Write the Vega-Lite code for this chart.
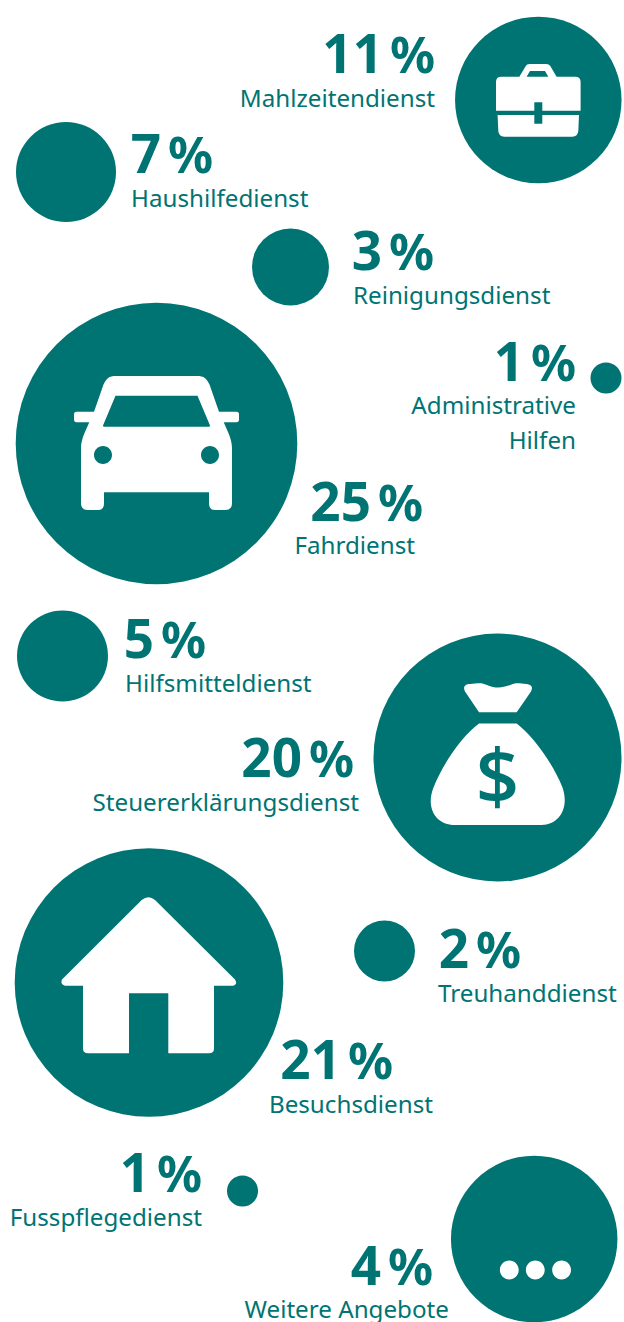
{
"$schema":"https://vega.github.io/schema/vega-lite/v6.json",
"width":624,"height":1322,"padding":0,"autosize":{"type":"none"},"background":"white",
"config":{"view":{"stroke":null}},
"data":{"values":[
{"label":"Mahlzeitendienst","share":"11","cx":538.3,"cy":100,"diameter":166.5,"icon":"briefcase","side":"right","pctX":435,"pctY":72.7,"labelX":435,"labelY":106.7},
{"label":"Haushilfedienst","share":"7","cx":66,"cy":172,"diameter":100,"side":"left","pctX":213,"pctY":173,"labelX":131,"labelY":207},
{"label":"Reinigungsdienst","share":"3","cx":290.5,"cy":267,"diameter":77,"side":"left","pctX":434,"pctY":270,"labelX":353,"labelY":304},
{"label":"Fahrdienst","share":"25","cx":156.5,"cy":443.5,"diameter":281.6,"icon":"car","side":"right","pctX":423,"pctY":521,"labelX":415,"labelY":554},
{"label":"Administrative\nHilfen","share":"1","cx":606,"cy":378,"diameter":31,"side":"right","pctX":576,"pctY":381,"labelX":576,"labelY":414},
{"label":"Hilfsmitteldienst","share":"5","cx":62.5,"cy":656,"diameter":91,"side":"left","pctX":206,"pctY":658,"labelX":125,"labelY":692},
{"label":"Steuererklärungsdienst","share":"20","cx":497.5,"cy":757.5,"diameter":248,"icon":"bag","side":"right","pctX":354,"pctY":777,"labelX":359,"labelY":811},
{"label":"Treuhanddienst","share":"2","cx":384.5,"cy":951,"diameter":61,"side":"left","pctX":521,"pctY":968,"labelX":438,"labelY":1002},
{"label":"Besuchsdienst","share":"21","cx":149,"cy":982.5,"diameter":268.6,"icon":"house","side":"right","pctX":393,"pctY":1079,"labelX":433,"labelY":1113},
{"label":"Fusspflegedienst","share":"1","cx":242.5,"cy":1191,"diameter":31,"side":"right","pctX":202,"pctY":1192,"labelX":202,"labelY":1226},
{"label":"Weitere Angebote","share":"4","cx":534.2,"cy":1239,"diameter":166.5,"icon":"dots","side":"right","pctX":433,"pctY":1285,"labelX":449,"labelY":1318}
]},
"layer":[
{"mark":{"type":"circle","color":"#007473","opacity":1,"strokeWidth":0},
 "encoding":{
  "x":{"field":"cx","type":"quantitative","axis":null,"scale":{"domain":[0,624],"nice":false,"zero":false}},
  "y":{"field":"cy","type":"quantitative","axis":null,"scale":{"domain":[1322,0],"nice":false,"zero":false}},
  "size":{"field":"diameter","type":"quantitative","legend":null,"scale":{"type":"pow","exponent":2,"domain":[0,300],"range":[0,90000]}}
 }},
{"transform":[{"filter":"datum.icon"}],
 "mark":{"type":"point","filled":true,"color":"white","opacity":1,"size":4,"strokeWidth":0},
 "encoding":{
  "x":{"field":"cx","type":"quantitative"},
  "y":{"field":"cy","type":"quantitative"},
  "shape":{"field":"icon","type":"nominal","legend":null,"scale":{"domain":["briefcase","car","bag","house","dots"],"range":[
   "M-42.3 10.7 L-42.3 -18 Q-42.3 -23.3 -37 -23.3 L-19 -23.3 L-12.5 -34 Q-11.5 -36 -9 -36 L8 -36 Q10.5 -36 12 -34 L18.3 -23.3 L37 -23.3 Q42.3 -23.3 42.3 -18 L42.3 10.7 L4 10.7 L4 2.3 L-4 2.3 L-4 10.7 Z M-11.7 -23.3 L10 -23.3 L6.7 -29 L-8.3 -29 Z M-40.7 15 L-4 15 L-4 23.7 L4 23.7 L4 15 L40.7 15 L40 31 Q39.5 36.7 34 36.7 L-34 36.7 Q-39.5 36.7 -40 31 Z",
   "M-40 -67.5 L40 -67.5 C48 -67.5 50 -65 53 -59 L62.5 -31.8 L80 -31.8 Q82.5 -31.8 82.5 -29 L82.5 -24 Q82.5 -21.2 80 -21.2 L67.2 -21.2 C71 -12 75.5 -5 75.5 5 L75.5 60 Q75.5 66.5 69 66.5 L58 66.5 Q52.5 66.5 52.5 60 L52.5 48.8 L-52.5 48.8 L-52.5 60 Q-52.5 66.5 -58 66.5 L-69 66.5 Q-75.5 66.5 -75.5 60 L-75.5 5 C-75.5 -5 -71 -12 -67.2 -21.2 L-80 -21.2 Q-82.5 -21.2 -82.5 -24 L-82.5 -29 Q-82.5 -31.8 -80 -31.8 L-62.5 -31.8 L-53 -59 C-50 -65 -48 -67.5 -40 -67.5 Z M-41 -47.8 L-53.5 -18 Q-54 -16.8 -52 -16.8 L52 -16.8 Q54 -16.8 53.5 -18 L41 -47.8 Z M-44.5 11.5 A9 9 0 1 0 -62.5 11.5 A9 9 0 1 0 -44.5 11.5 Z M62.5 11.5 A9 9 0 1 0 44.5 11.5 A9 9 0 1 0 62.5 11.5 Z",
   "M-18.5 -45.2 L-32.5 -66 C-35 -71 -32 -73.5 -27.5 -73.5 C-20 -74.5 -16 -75 -12 -73 C-6 -70.5 -3 -70 1 -70 C5 -70 9 -71 14 -73 C18 -75 22 -74.5 29 -73.5 C33.5 -73 36 -71 33.5 -66 L19.2 -45.2 Z M-18.5 -34 L19.2 -34 C35 -22 55 5 65 30 C72 50 62 67.5 44 67.5 L-42.5 67.5 C-62 67.5 -72 50 -64 30 C-54 5 -35 -22 -18.5 -34 Z",
   "M-7.3 -82.5 Q-0.5 -88 6 -82.5 L86 -3 Q89 2 84 3.2 L65 3.2 L65 66 Q65 70.8 60 70.8 L19.3 70.8 L19.3 10.8 L-20 10.8 L-20 70.8 L-61 70.8 Q-66 70.8 -66 66 L-66 3.2 L-84 3.2 Q-89 2 -87 -3 Z",
   "M-15.5 31 A9.4 9.4 0 1 1 -34.3 31 A9.4 9.4 0 1 1 -15.5 31 Z M10.5 31 A9.4 9.4 0 1 1 -8.3 31 A9.4 9.4 0 1 1 10.5 31 Z M36.8 31 A9.4 9.4 0 1 1 18 31 A9.4 9.4 0 1 1 36.8 31 Z"
  ]}}
 }},
{"transform":[{"filter":"datum.icon === 'bag'"}],
 "mark":{"type":"text","text":"$","font":"Open Sans","fontWeight":600,"fontSize":76,"color":"#007473","align":"center","baseline":"alphabetic","dy":45},
 "encoding":{"x":{"field":"cx","type":"quantitative"},"y":{"field":"cy","type":"quantitative"}}},
{"mark":{"type":"text","font":"Noto Sans","fontWeight":"bold","fontSize":53,"color":"#007473","align":"right","baseline":"alphabetic","dx":-52},
 "encoding":{"x":{"field":"pctX","type":"quantitative"},"y":{"field":"pctY","type":"quantitative"},"text":{"field":"share","type":"nominal"}}},
{"mark":{"type":"text","text":"%","font":"Noto Sans","fontWeight":"bold","fontSize":50,"color":"#007473","align":"right","baseline":"alphabetic"},
 "encoding":{"x":{"field":"pctX","type":"quantitative"},"y":{"field":"pctY","type":"quantitative"}}},
{"transform":[{"filter":"datum.side === 'right'"}],
 "mark":{"type":"text","font":"Noto Sans","fontSize":24.2,"color":"#007473","align":"right","baseline":"alphabetic","lineBreak":"\n","lineHeight":35},
 "encoding":{"x":{"field":"labelX","type":"quantitative"},"y":{"field":"labelY","type":"quantitative"},"text":{"field":"label","type":"nominal"}}},
{"transform":[{"filter":"datum.side === 'left'"}],
 "mark":{"type":"text","font":"Noto Sans","fontSize":24.2,"color":"#007473","align":"left","baseline":"alphabetic","lineBreak":"\n","lineHeight":35},
 "encoding":{"x":{"field":"labelX","type":"quantitative"},"y":{"field":"labelY","type":"quantitative"},"text":{"field":"label","type":"nominal"}}}
]
}
